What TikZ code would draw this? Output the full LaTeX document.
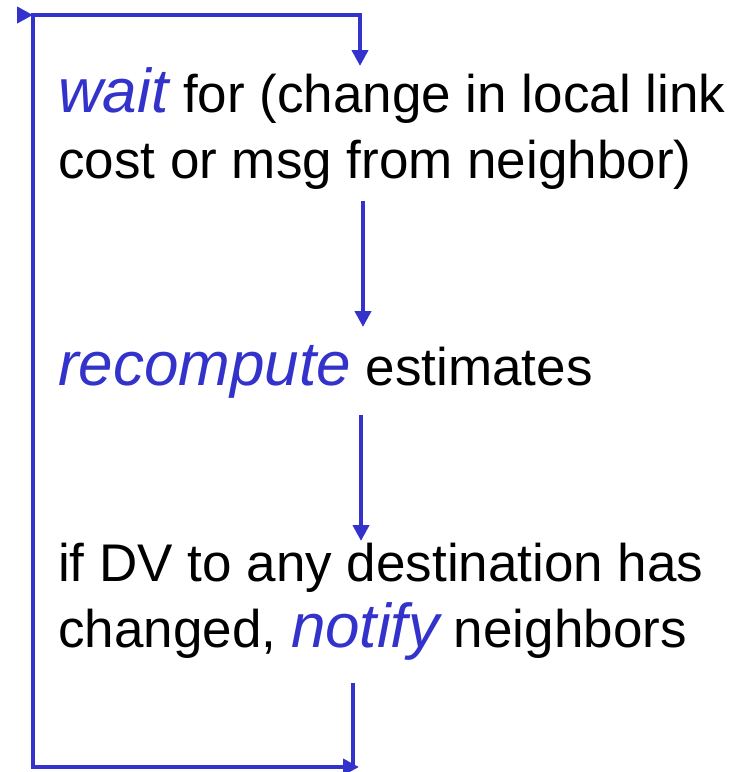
\documentclass[tikz,border=0pt]{standalone}
\usepackage{fontspec}
\setmainfont{Liberation Sans}
\usetikzlibrary{arrows.meta}
\definecolor{dvblue}{RGB}{51,51,204}
\newcommand{\dvword}[1]{{\fontsize{62}{66}\selectfont\itshape\color{dvblue}#1}}
\tikzset{
	dvtext/.style={anchor=base west, inner sep=0pt, align=left, font=\fontsize{53}{66}\selectfont},
	dvline/.style={draw=dvblue, line width=4pt, line cap=rect},
	dvarrow/.style={dvline, -{Triangle[length=16pt,width=16pt]}},
}

\begin{document}
\begin{tikzpicture}[x=1pt, y=-1pt]
				\useasboundingbox (0, 0) rectangle (751, 772);
				% base anchor sits on the last line
				\node[dvtext] (wait) at (58, 178) {\dvword{wait} for (change in local link\\cost or msg from neighbor)};
				\node[dvtext] (recomp) at (58, 385) {\dvword{recompute} estimates};
				\node[dvtext] (notify) at (58, 647) {if DV to any destination has\\changed, \dvword{notify} neighbors};
				\coordinate (topstub) at (17, 15);
				\coordinate (topleft) at (33, 15);
				\coordinate (topright) at (360, 15);
				\coordinate (waitin) at (360, 66);
				\coordinate (waitout) at (363, 203);
				\coordinate (recompin) at (363, 327);
				\coordinate (recompout) at (361, 417);
				\coordinate (notifyin) at (361, 541);
				\coordinate (notifyout) at (353, 685);
				\coordinate (botright) at (353, 767);
				\coordinate (botleft) at (33, 767);
				\coordinate (botend) at (359, 767);
				\draw[dvarrow] (topleft) -- (topright) -- (waitin);
				\draw[dvarrow] (waitout) -- (recompin);
				\draw[dvarrow] (recompout) -- (notifyin);
				\draw[dvline] (notifyout) -- (botright);
				\draw[dvarrow] (botleft) -- (botend);
				\draw[dvline] (botleft) -- (topleft);
				\draw[dvarrow, line cap=butt] (topstub) -- (topleft);
			\end{tikzpicture}
\end{document}
